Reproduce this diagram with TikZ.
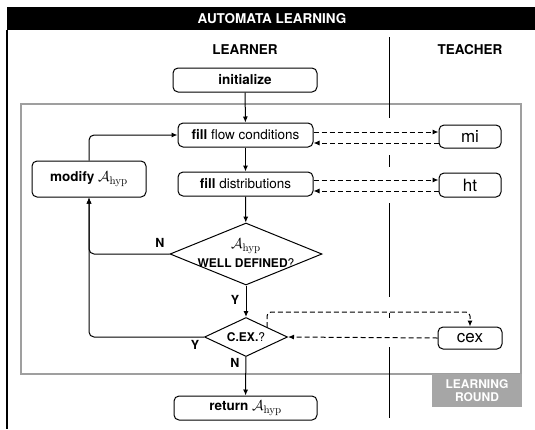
\documentclass[tikz,border=0pt]{standalone}
\usepackage[no-math]{fontspec}
\setmainfont{TeX Gyre Heros}
\usetikzlibrary{shapes.geometric,arrows.meta}

\newcommand{\Ahyp}{{\fontsize{15}{17}\selectfont$\mathcal{A}_{\mathrm{hyp}}$}}

\begin{document}
\begin{tikzpicture}[x=1pt,y=-1pt,
  every node/.style={font=\fontsize{13.5}{15}\selectfont},
  box/.style={draw, rounded corners=5pt, line width=1pt, inner sep=0pt, minimum height=24pt},
  tbox/.style={box, font=\fontsize{17}{19}\selectfont},
  dmd/.style={draw, diamond, line width=1pt, inner sep=0pt},
  arr/.style={line width=1pt, -{Latex[length=6pt,width=5pt]}},
  darr/.style={arr, dash pattern=on 5pt off 3pt},
  lab/.style={font=\bfseries\fontsize{12.5}{14}\selectfont},
  qtext/.style={font=\bfseries\fontsize{12}{13}\selectfont},
  head/.style={font=\bfseries\fontsize{13.5}{15}\selectfont},
]
\useasboundingbox (0,0) rectangle (535,429);

% outer frame: title bar and left rule
\fill[black] (7,7) rectangle (535,30);
\node[head, text=white] (title) at (272,18.5) {AUTOMATA LEARNING};
\draw[line width=1.6pt] (7,30) -- (7,429);

% learning round frame
\draw[gray!75, line width=2pt] (21,104) rectangle (521,374);
\fill[gray!70] (432,374) rectangle (522,407);
\node[text=white, align=center, font=\bfseries\fontsize{12}{13.5}\selectfont] (round) at (477,390.5) {LEARNING\\ROUND};

% learner / teacher divider
\draw[line width=1pt] (389,37) -- (389,118)
  (389,155) -- (389,167)
  (389,203) -- (389,297)
  (389,313) -- (389,318)
  (389,347) -- (389,418);

\node[head] (learner) at (245,50) {LEARNER};
\node[head] (teacher) at (470,50) {TEACHER};

% learner nodes
\node[box, minimum width=144pt] (init) at (245,80) {\textbf{initialize}};
\node[box, minimum width=135pt] (fillfc) at (245.5,135) {\textbf{fill} flow conditions};
\node[box, minimum width=135pt] (filld) at (245.5,184) {\textbf{fill} distributions};
\node[box, minimum width=114pt, minimum height=36pt] (modify) at (89,179) {\textbf{modify} \Ahyp};
\node[dmd, minimum width=152pt, minimum height=62pt] (wd) at (246,254) {};
\node (wdA) at (246,246) {\Ahyp};
\node[qtext] (wdT) at (246,263) {WELL DEFINED\mdseries?};
\node[dmd, minimum width=83pt, minimum height=39pt] (cexd) at (246,337) {};
\node[qtext] (cexT) at (246,337) {C.EX.\mdseries?};
\node[box, minimum width=143pt] (ret) at (245.5,408) {\textbf{return} \Ahyp};

% teacher nodes
\node[tbox, minimum width=62pt, minimum height=23pt] (mi) at (470,136.5) {mi};
\node[tbox, minimum width=62pt] (ht) at (470,185) {ht};
\node[tbox, minimum width=64pt, minimum height=22pt] (cex) at (470,338) {cex};

% main flow
\draw[arr] (init) -- (fillfc);
\draw[arr] (fillfc) -- (filld);
\draw[arr] (filld) -- (wd);
\draw[arr] (wd) -- (cexd);
\draw[arr] (cexd) -- (ret);
\draw[arr, rounded corners=5pt] (modify.north) |- (fillfc.west);
\draw[arr, rounded corners=5pt] (wd.west) -| (modify.south);
\draw[arr, rounded corners=5pt] (cexd.west) -| (modify.south);

\node[lab] (lN1) at (160,243) {N};
\node[lab] (lY1) at (235,300) {Y};
\node[lab] (lY2) at (195,345) {Y};
\node[lab] (lN2) at (235,363) {N};

% queries to the teacher
\draw[darr] ([yshift=3pt]fillfc.east) -- ([yshift=3pt]fillfc.east -| mi.west);
\draw[darr] ([yshift=-8pt]fillfc.east -| mi.west) -- ([yshift=-8pt]fillfc.east);
\draw[darr] ([yshift=4pt]filld.east) -- ([yshift=4pt]filld.east -| ht.west);
\draw[darr] ([yshift=-7pt]filld.east -| ht.west) -- ([yshift=-7pt]filld.east);
\draw[darr, rounded corners=4pt] (cexd.north east) -- ++(0,-15) -| (cex.north);
\draw[darr] (cex.west) -- (cexd.east);
\end{tikzpicture}
\end{document}
